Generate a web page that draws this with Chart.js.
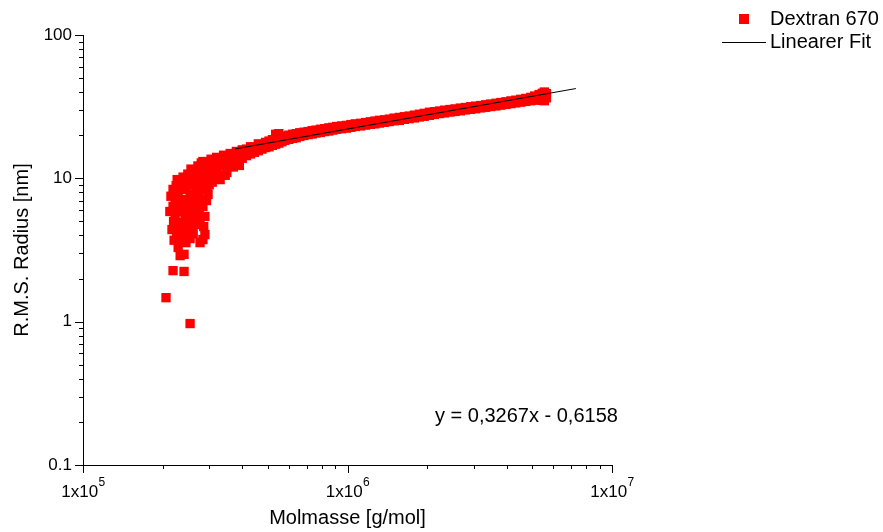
<!DOCTYPE html>
<html>
<head>
<meta charset="utf-8">
<script src="https://cdn.jsdelivr.net/npm/chart.js@4"></script>
<style>
  html, body { margin: 0; padding: 0; background: #fff; }
  canvas { display: block; }
</style>
</head>
<body>
<canvas id="radiusChart" width="883" height="532"></canvas>
<script>
// Dextran 670 - Molmasse gegen R.M.S. Radius (log/log)
var dextranMass = [
  2.06e5, 2.54e5, 2.19e5, 2.41e5, 2.29e5, 2.33e5, 2.41e5, 2.17e5, 2.23e5, 2.29e5,
  2.37e5, 2.45e5, 2.49e5, 2.54e5, 2.61e5, 2.67e5, 2.77e5, 2.84e5, 2.89e5, 2.13e5,
  2.19e5, 2.23e5, 2.33e5, 2.41e5, 2.49e5, 2.61e5, 2.77e5, 2.89e5, 2.84e5, 2.19e5,
  2.23e5, 2.29e5, 2.37e5, 2.41e5, 2.45e5, 2.49e5, 2.54e5, 2.61e5, 2.67e5, 2.67e5,
  2.77e5, 2.77e5, 2.84e5, 2.84e5, 2.89e5, 2.97e5, 2.97e5, 2.72e5, 2.58e5, 2.25e5,
  2.15e5, 2.20e5, 2.25e5, 2.27e5, 2.31e5, 2.33e5, 2.35e5, 2.39e5, 2.43e5, 2.44e5,
  2.47e5, 2.52e5, 2.52e5, 2.56e5, 2.57e5, 2.60e5, 2.63e5, 2.65e5, 2.70e5, 2.70e5,
  2.74e5, 2.80e5, 2.80e5, 2.82e5, 2.87e5, 2.92e5, 2.94e5, 3.02e5, 3.05e5, 3.15e5,
  2.21e5, 2.26e5, 2.35e5, 2.47e5, 2.58e5, 2.66e5, 2.75e5, 2.86e5, 2.93e5, 3.08e5,
  3.00e5, 3.00e5, 3.10e5, 3.10e5, 3.20e5, 3.20e5, 3.25e5, 3.25e5, 3.30e5, 3.30e5,
  3.40e5, 3.40e5, 3.45e5, 3.45e5, 3.50e5, 3.50e5, 3.60e5, 3.60e5, 3.70e5, 3.70e5,
  3.80e5, 3.80e5, 3.90e5, 3.90e5, 4.00e5, 4.00e5, 4.15e5, 4.15e5, 4.30e5, 4.30e5,
  4.45e5, 4.45e5, 4.60e5, 4.60e5, 4.75e5, 4.75e5, 4.90e5, 4.90e5, 5.05e5, 5.05e5,
  5.20e5, 5.20e5, 5.35e5, 5.35e5, 5.50e5, 5.50e5, 5.65e5, 5.65e5, 5.80e5, 5.80e5,
  6.00e5, 6.00e5, 6.20e5, 6.20e5, 6.40e5, 6.40e5, 6.60e5, 6.60e5, 6.85e5, 6.85e5,
  7.10e5, 7.10e5, 7.35e5, 7.35e5, 7.60e5, 7.60e5, 7.90e5, 7.90e5, 8.20e5, 8.20e5,
  8.50e5, 8.50e5, 8.80e5, 8.80e5, 9.10e5, 9.10e5, 9.50e5, 9.50e5, 9.90e5, 9.90e5,
  1.03e6, 1.03e6, 1.07e6, 1.07e6, 1.12e6, 1.12e6, 1.17e6, 1.17e6, 1.22e6, 1.22e6,
  1.27e6, 1.27e6, 1.32e6, 1.32e6, 1.38e6, 1.38e6, 1.44e6, 1.44e6, 1.50e6, 1.50e6,
  1.57e6, 1.57e6, 1.64e6, 1.64e6, 1.71e6, 1.71e6, 1.79e6, 1.79e6, 1.87e6, 1.87e6,
  1.95e6, 1.95e6, 2.04e6, 2.04e6, 2.13e6, 2.13e6, 2.23e6, 2.23e6, 2.33e6, 2.33e6,
  2.44e6, 2.44e6, 2.55e6, 2.55e6, 2.67e6, 2.67e6, 2.79e6, 2.79e6, 2.92e6, 2.92e6,
  3.05e6, 3.05e6, 3.19e6, 3.19e6, 3.33e6, 3.33e6, 3.48e6, 3.48e6, 3.64e6, 3.64e6,
  3.80e6, 3.80e6, 3.97e6, 3.97e6, 4.15e6, 4.15e6, 4.33e6, 4.33e6, 4.52e6, 4.52e6,
  4.72e6, 4.72e6, 4.93e6, 4.93e6, 5.10e6, 5.10e6, 5.30e6, 5.30e6, 5.45e6, 5.45e6,
  5.55e6, 5.55e6, 5.65e6, 5.65e6
];
var dextranRadius = [
  1.47, 0.97, 2.27, 2.24, 3.29, 2.89, 2.95, 4.39, 4.76, 3.74,
  4.05, 3.56, 4.39, 3.80, 4.10, 4.76, 3.56, 3.74, 4.05, 5.87,
  6.37, 5.42, 5.87, 6.37, 5.16, 5.87, 5.16, 5.42, 6.37, 8.37,
  7.12, 7.72, 9.08, 7.12, 8.37, 10.7, 7.72, 9.08, 8.37, 11.0,
  9.84, 7.12, 13.1, 8.37, 11.0, 7.72, 9.84, 12.2, 6.80, 8.90,
  7.50, 5.00, 6.00, 9.80, 8.60, 6.80, 4.90, 10.2, 5.40, 9.60,
  6.30, 9.00, 5.60, 11.6, 4.60, 7.00, 10.4, 6.20, 9.40, 5.50,
  7.80, 12.8, 10.6, 6.80, 9.20, 12.4, 8.60, 10.6, 13.6, 12.8,
  3.70, 4.20, 4.40, 4.80, 4.30, 5.30, 6.00, 4.60, 7.00, 9.40,
  12.0, 9.0, 13.2, 10.6, 14.0, 11.5, 12.6, 10.2, 13.6, 9.8,
  14.5, 12.2, 13.4, 10.5, 13.2, 11.0, 14.9, 12.5, 14.2, 12.0,
  15.4, 13.4, 15.0, 12.3, 15.8, 13.8, 16.0, 14.4, 16.6, 14.8,
  16.5, 15.2, 17.4, 15.6, 17.2, 16.0, 17.8, 16.4, 18.2, 16.6,
  18.6, 17.0, 20.3, 17.3, 20.5, 17.6, 19.5, 18.0, 19.7, 18.4,
  20.0, 18.7, 20.3, 19.0, 20.5, 19.2, 20.8, 19.6, 21.0, 19.9,
  21.2, 20.2, 21.5, 20.4, 21.7, 20.7, 22.0, 20.9, 22.2, 21.2,
  22.5, 21.4, 22.7, 21.7, 23.0, 22.0, 23.2, 22.2, 23.4, 22.4,
  23.7, 22.7, 24.0, 23.0, 24.2, 23.2, 24.5, 23.5, 24.8, 23.8,
  25.1, 24.0, 25.4, 24.3, 25.6, 24.6, 25.9, 24.9, 26.3, 25.2,
  26.6, 25.4, 26.9, 25.8, 27.2, 26.1, 27.6, 26.4, 28.0, 26.8,
  28.4, 27.1, 28.9, 27.5, 29.2, 27.9, 29.5, 28.3, 29.9, 28.6,
  30.2, 29.0, 30.5, 29.3, 30.9, 29.6, 31.2, 30.0, 31.6, 30.3,
  31.9, 30.6, 32.2, 31.0, 32.6, 31.3, 33.0, 31.7, 33.4, 32.0,
  33.8, 32.4, 34.2, 32.8, 34.7, 33.2, 35.1, 33.6, 35.6, 34.0,
  36.1, 34.4, 36.7, 34.8, 37.5, 35.1, 38.4, 35.4, 39.2, 35.0,
  40.0, 34.8, 39.0, 36.5
];

// Linearer Fit (Endpunkte)
var fitMass = [3.76e5, 7.3e6];
var fitRadius = [16.05, 42.3];

// Achsen
var xTickValues = [1e5, 2e5, 3e5, 4e5, 5e5, 6e5, 7e5, 8e5, 9e5,
                   1e6, 2e6, 3e6, 4e6, 5e6, 6e6, 7e6, 8e6, 9e6, 1e7];
var xMajorTicks = [1e5, 1e6, 1e7];
var xMajorExponents = ['5', '6', '7'];
var yTickValues = [0.1, 0.2, 0.3, 0.4, 0.5, 0.6, 0.7, 0.8, 0.9,
                   1, 2, 3, 4, 5, 6, 7, 8, 9,
                   10, 20, 30, 40, 50, 60, 70, 80, 90, 100];
var yMajorTicks = [0.1, 1, 10, 100];
var yMajorLabels = ['0.1', '1', '10', '100'];

var fontFamily = '"Liberation Sans", Arial, sans-serif';

var dextranPoints = dextranMass.map(function (m, i) { return { x: m, y: dextranRadius[i] }; });
var fitPoints = fitMass.map(function (m, i) { return { x: m, y: fitRadius[i] }; });

// Ticks, Exponenten-Beschriftung, Gleichung und Legende
var extrasPlugin = {
  id: 'extras',
  afterDraw: function (chart) {
    var ctx = chart.ctx;
    var area = chart.chartArea;
    var xs = chart.scales.x;
    var ys = chart.scales.y;
    ctx.save();
    ctx.strokeStyle = '#000';
    ctx.lineWidth = 1;
    ctx.beginPath();
    xTickValues.forEach(function (v) {
      var px = Math.round(xs.getPixelForValue(v)) + 0.5;
      var len = xMajorTicks.indexOf(v) >= 0 ? 8 : 4;
      ctx.moveTo(px, area.bottom);
      ctx.lineTo(px, area.bottom + len);
    });
    yTickValues.forEach(function (v) {
      var py = Math.round(ys.getPixelForValue(v)) + 0.5;
      var len = yMajorTicks.indexOf(v) >= 0 ? 8 : 4;
      ctx.moveTo(area.left, py);
      ctx.lineTo(area.left - len, py);
    });
    ctx.stroke();

    // 1x10^n
    ctx.fillStyle = '#000';
    ctx.textBaseline = 'alphabetic';
    ctx.textAlign = 'left';
    xMajorTicks.forEach(function (v, i) {
      var px = xs.getPixelForValue(v);
      ctx.font = '17px ' + fontFamily;
      var wb = ctx.measureText('1x10').width;
      ctx.font = '12px ' + fontFamily;
      var we = ctx.measureText(xMajorExponents[i]).width;
      var left = px - (wb + we) / 2;
      ctx.font = '17px ' + fontFamily;
      ctx.fillText('1x10', left, area.bottom + 32);
      ctx.font = '12px ' + fontFamily;
      ctx.fillText(xMajorExponents[i], left + wb + 0.5, area.bottom + 21);
    });

    // Gleichung
    ctx.font = '20px ' + fontFamily;
    ctx.fillText('y = 0,3267x - 0,6158', area.right - 177, area.bottom - 43);

    // Legende
    ctx.fillStyle = '#ff0000';
    ctx.fillRect(739, 14, 10, 10);
    ctx.beginPath();
    ctx.moveTo(722, 42.5);
    ctx.lineTo(766, 42.5);
    ctx.stroke();
    ctx.fillStyle = '#000';
    ctx.textBaseline = 'middle';
    ctx.fillText('Dextran 670', 770, 19);
    ctx.fillText('Linearer Fit', 770, 42);
    ctx.restore();
  }
};

var radiusConfig = {
  type: 'scatter',
  data: {
    datasets: [{
      label: 'Linearer Fit',
      data: fitPoints,
      showLine: true,
      borderColor: '#000',
      borderWidth: 1,
      pointRadius: 0,
      order: 0
    }, {
      label: 'Dextran 670',
      data: dextranPoints,
      showLine: false,
      pointStyle: 'rect',
      pointRadius: 6.6,
      pointBorderWidth: 0,
      backgroundColor: '#ff0000',
      borderColor: '#ff0000',
      order: 1
    }]
  },
  options: {
    responsive: false,
    animation: false,
    layout: { padding: { left: 0, right: 271, top: 35, bottom: 0 } },
    plugins: {
      legend: { display: false },
      tooltip: { enabled: false }
    },
    scales: {
      x: {
        type: 'logarithmic',
        min: 1e5,
        max: 1e7,
        grid: { display: false, drawTicks: false },
        border: { display: true, color: '#000', width: 1 },
        ticks: { autoSkip: false, maxRotation: 0, callback: function () { return ''; } },
        title: {
          display: true,
          text: 'Molmasse [g/mol]',
          color: '#000',
          font: { family: fontFamily, size: 20 },
          padding: { top: 0, bottom: 2 }
        },
        afterBuildTicks: function (scale) {
          scale.ticks = xTickValues.map(function (v) { return { value: v }; });
        },
        afterFit: function (scale) { scale.height = 67; }
      },
      y: {
        type: 'logarithmic',
        min: 0.1,
        max: 100,
        grid: { display: false, drawTicks: true, tickLength: 8 },
        border: { display: true, color: '#000', width: 1 },
        ticks: {
          autoSkip: false,
          color: '#000',
          padding: 3,
          font: { family: fontFamily, size: 17 },
          callback: function (value) {
            var i = yMajorTicks.indexOf(value);
            return i >= 0 ? yMajorLabels[i] : '';
          }
        },
        title: {
          display: true,
          text: 'R.M.S. Radius [nm]',
          color: '#000',
          font: { family: fontFamily, size: 20 },
          padding: { top: 10, bottom: 0 }
        },
        afterBuildTicks: function (scale) {
          scale.ticks = yTickValues.map(function (v) { return { value: v }; });
        },
        afterFit: function (scale) { scale.width = 83; }
      }
    }
  },
  plugins: [extrasPlugin]
};

var radiusChart = new Chart(document.getElementById('radiusChart'), radiusConfig);
</script>
</body>
</html>
